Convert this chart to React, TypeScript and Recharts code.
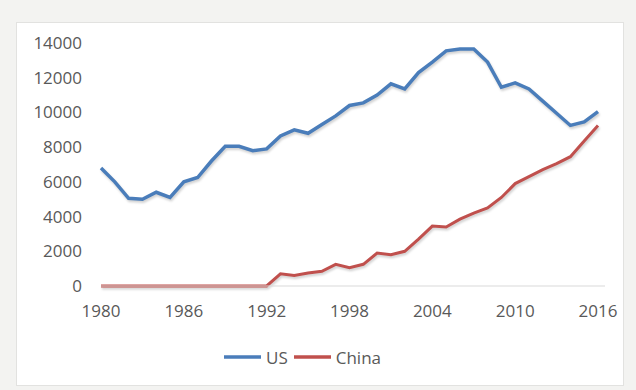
import React from "react";
import { LineChart, Line, XAxis, YAxis, Legend } from "recharts";

const years = [1980,1981,1982,1983,1984,1985,1986,1987,1988,1989,1990,1991,1992,1993,1994,1995,1996,1997,1998,1999,2000,2001,2002,2003,2004,2005,2006,2007,2008,2009,2010,2011,2012,2013,2014,2015,2016];
const us = [6800,6000,5050,5000,5400,5100,6000,6250,7200,8050,8050,7800,7900,8650,9000,8800,9300,9800,10400,10550,11000,11650,11350,12300,12900,13550,13650,13650,12900,11450,11700,11350,10650,9950,9250,9450,10050];
const china = [0,0,0,0,0,0,0,0,0,0,0,0,0,700,600,750,850,1250,1050,1250,1900,1800,2000,2700,3450,3400,3850,4200,4500,5100,5900,6300,6700,7050,7450,8350,9250];
const xTicks = [1980,1986,1992,1998,2004,2010,2016];
const yTicks = [0,2000,4000,6000,8000,10000,12000,14000];
const seriesNames = ["US","China"];
const colors = ["#4A7DBA","#C0504D"];

const data = years.map((y, i) => ({ year: y, US: us[i], China: china[i] }));

const FONT = "'Open Sans', sans-serif";

const LegendContent = () => (
  <div style={{ display: "flex", justifyContent: "center", alignItems: "center", height: 30, fontFamily: FONT, fontSize: 17, color: "#595959" }}>
    {seriesNames.map((n, i) => (
      <div key={n} style={{ display: "flex", alignItems: "center", marginLeft: i === 0 ? 0 : 6 }}>
        <svg width={37} height={6} style={{ marginRight: 5 }}>
          <line x1={0} y1={3} x2={37} y2={3} stroke={colors[i]} strokeWidth={3.5} />
        </svg>
        <span>{n}</span>
      </div>
    ))}
  </div>
);

export default function App() {
  return (
    <div style={{ position: "absolute", left: 0, top: 0, width: 636, height: 390, background: "#f3f3f1" }}>
      <div style={{ position: "absolute", left: 16, top: 22, width: 606, height: 362, background: "#ffffff", border: "1px solid #e2e2e0" }} />
      <div style={{ position: "absolute", left: 0, top: 0 }}>
        <LineChart width={636} height={390} data={data} margin={{ top: 43, right: 31, left: 0, bottom: 18 }}>
          <XAxis
            dataKey="year"
            type="number"
            domain={[1980, 2016]}
            ticks={xTicks}
            padding={{ left: 0, right: 7 }}
            height={56}
            tickSize={0}
            tickMargin={19}
            axisLine={{ stroke: "#d9d9d9", strokeWidth: 1 }}
            tickLine={false}
            tick={{ fill: "#595959", fontSize: 17, fontFamily: FONT }}
            interval={0}
          />
          <YAxis
            domain={[0, 14000]}
            ticks={yTicks}
            width={101}
            tickSize={0}
            tickMargin={19}
            axisLine={false}
            tickLine={false}
            tick={{ fill: "#595959", fontSize: 17, fontFamily: FONT }}
            interval={0}
          />
          <Legend verticalAlign="bottom" height={30} content={<LegendContent />} />
          <Line type="linear" dataKey="US" stroke={colors[0]} strokeWidth={3.5} dot={false} isAnimationActive={false} style={{ filter: "drop-shadow(1px 2px 1px rgba(0,0,0,0.18))" }} />
          <Line type="linear" dataKey="China" stroke={colors[1]} strokeWidth={3} dot={false} isAnimationActive={false} style={{ filter: "drop-shadow(1px 2px 1px rgba(0,0,0,0.18))" }} />
        </LineChart>
      </div>
    </div>
  );
}
